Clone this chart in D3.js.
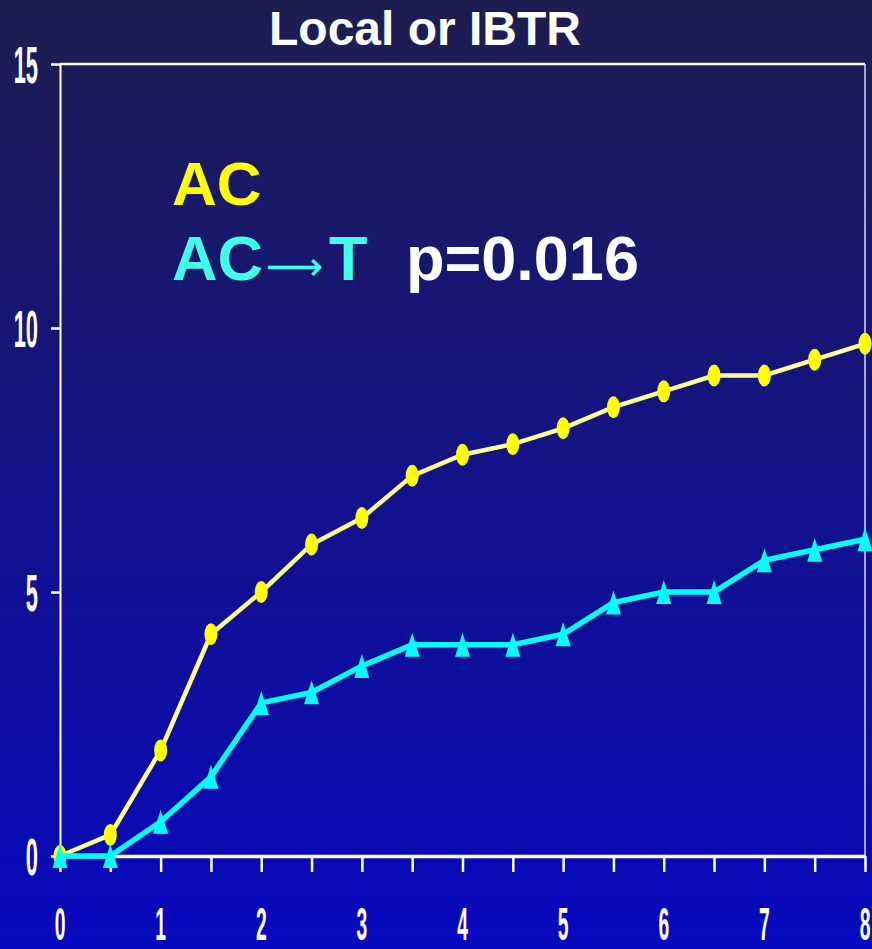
<!DOCTYPE html>
<meta charset="utf-8">
<style>
body { margin: 0; background: #0808bd; }
svg { display: block; }
.lbl { font-family: "Liberation Sans", Arial, sans-serif; font-weight: bold; fill: white; }
</style>
<body>
<script src="https://d3js.org/d3.v7.min.js"></script>
<script>
// chart data (years vs cumulative %)
var years = [0, 0.5, 1, 1.5, 2, 2.5, 3, 3.5, 4, 4.5, 5, 5.5, 6, 6.5, 7, 7.5, 8];
var acValues = [0, 0.4, 2.0, 4.2, 5.0, 5.9, 6.4, 7.2, 7.6, 7.8, 8.1, 8.5, 8.8, 9.1, 9.1, 9.4, 9.7];
var actValues = [0, 0, 0.65, 1.5, 2.9, 3.1, 3.6, 4.0, 4.0, 4.0, 4.2, 4.8, 5.0, 5.0, 5.6, 5.8, 6.0];
var yTicks = [0, 5, 10, 15];
var xTicks = [0, 0.5, 1, 1.5, 2, 2.5, 3, 3.5, 4, 4.5, 5, 5.5, 6, 6.5, 7, 7.5, 8];
var xLabels = [0, 1, 2, 3, 4, 5, 6, 7, 8];

var W = 872, H = 949;
var margin = {left: 60, right: 865, top: 64, bottom: 856};

var svg = d3.select("body").append("svg")
    .attr("width", W)
    .attr("height", H);

// background gradient
var grad = svg.append("defs").append("linearGradient")
    .attr("id", "bg")
    .attr("x1", 0).attr("y1", 0).attr("x2", 0).attr("y2", 1);
grad.append("stop").attr("offset", "0%").attr("stop-color", "#1e1d50");
grad.append("stop").attr("offset", "100%").attr("stop-color", "#0808bf");
svg.append("rect").attr("width", W).attr("height", H).attr("fill", "url(#bg)");

var x = d3.scaleLinear().domain([0, 8]).range([margin.left, margin.right]);
var y = d3.scaleLinear().domain([0, 15]).range([margin.bottom, margin.top]);

// frame: top and right
svg.append("line").attr("x1", margin.left).attr("x2", margin.right)
    .attr("y1", margin.top).attr("y2", margin.top)
    .attr("stroke", "white").attr("stroke-width", 2.5);
svg.append("line").attr("x1", margin.right).attr("x2", margin.right)
    .attr("y1", margin.top).attr("y2", margin.bottom)
    .attr("stroke", "#d8d8f0").attr("stroke-width", 1.5);

// y axis
var yAxis = svg.append("g")
    .attr("transform", "translate(" + margin.left + ",0)")
    .call(d3.axisLeft(y).tickValues(yTicks).tickSize(9).tickSizeOuter(0).tickFormat(""));
yAxis.select(".domain").attr("stroke", "white").attr("stroke-width", 2);
yAxis.selectAll(".tick line").attr("stroke", "white").attr("stroke-width", 2.5);

// x axis
var xAxis = svg.append("g")
    .attr("transform", "translate(0," + margin.bottom + ")")
    .call(d3.axisBottom(x).tickValues(xTicks).tickSize(16).tickSizeOuter(0).tickFormat(""));
xAxis.select(".domain").attr("stroke", "white").attr("stroke-width", 3.5);
xAxis.selectAll(".tick line").attr("stroke", "white").attr("stroke-width", 2.5);

// condensed tick labels
svg.selectAll(".ylab").data(yTicks).enter().append("text")
    .attr("class", "lbl")
    .attr("text-anchor", "end")
    .style("font-size", "52px")
    .attr("transform", function(d) { return "translate(38," + (y(d) + 18.5) + ") scale(0.42,1)"; })
    .text(function(d) { return d; });

svg.selectAll(".xlab").data(xLabels).enter().append("text")
    .attr("class", "lbl")
    .attr("text-anchor", "middle")
    .style("font-size", "46px")
    .attr("transform", function(d) { return "translate(" + x(d) + ",940) scale(0.42,1)"; })
    .text(function(d) { return d; });

// title
svg.append("text")
    .attr("class", "lbl")
    .attr("x", 425).attr("y", 45)
    .attr("text-anchor", "middle")
    .style("font-size", "48px")
    .text("Local or IBTR");

// AC line
var lineAC = d3.line()
    .x(function(d, i) { return x(years[i]); })
    .y(function(d) { return y(d); });

svg.append("path")
    .datum(acValues)
    .attr("fill", "none")
    .attr("stroke", "#ffff99")
    .attr("stroke-width", 4.5)
    .attr("d", lineAC);

svg.selectAll(".acpt").data(acValues).enter().append("ellipse")
    .attr("cx", function(d, i) { return x(years[i]); })
    .attr("cy", function(d) { return y(d); })
    .attr("rx", 6.5)
    .attr("ry", 11)
    .attr("fill", "#ffff00");

// AC->T line
svg.append("path")
    .datum(actValues)
    .attr("fill", "none")
    .attr("stroke", "#00ffff")
    .attr("stroke-width", 5.5)
    .attr("d", lineAC);

svg.selectAll(".actpt").data(actValues).enter().append("path")
    .attr("transform", function(d, i) { return "translate(" + x(years[i]) + "," + y(d) + ")"; })
    .attr("d", "M0,-12L7.5,12L-7.5,12Z")
    .attr("fill", "#00ffff");

// legend
svg.append("text")
    .attr("class", "lbl")
    .attr("x", 172).attr("y", 205)
    .style("font-size", "62px")
    .style("fill", "#ffff00")
    .text("AC");

var leg2 = svg.append("text")
    .attr("class", "lbl")
    .attr("y", 280)
    .style("font-size", "63px");
leg2.append("tspan").attr("x", 172).style("fill", "#40ffea").text("AC");
leg2.append("tspan").attr("x", 266).style("fill", "#40ffea")
    .style("font-family", "DejaVu Sans").style("font-weight", "normal")
    .style("font-size", "40px").text("\u27F6");
leg2.append("tspan").attr("x", 329).style("fill", "#40ffea").text("T");
leg2.append("tspan").attr("x", 406).style("fill", "white").text("p=0.016");
</script>
</body>
